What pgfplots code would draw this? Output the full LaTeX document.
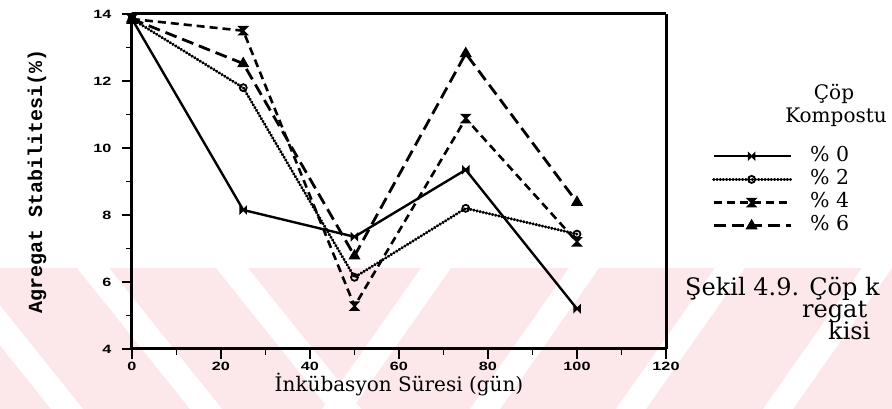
\documentclass[border=0pt]{standalone}
\usepackage{fontspec}
\setmainfont{DejaVu Serif}
\newfontfamily\tickfont{Liberation Sans Bold}[FakeStretch=1.35]
\newfontfamily\ylabfont{Liberation Mono Bold}
\usepackage{pgfplots}
\usepackage{pgfplotstable}
\pgfplotsset{compat=1.18}
\definecolor{wmpink}{RGB}{252,231,235}

\pgfdeclareplotmark{hourglass}{%
  \pgfpathmoveto{\pgfqpoint{-\pgfplotmarksize}{\pgfplotmarksize}}%
  \pgfpathlineto{\pgfqpoint{\pgfplotmarksize}{\pgfplotmarksize}}%
  \pgfpathlineto{\pgfqpoint{-\pgfplotmarksize}{-\pgfplotmarksize}}%
  \pgfpathlineto{\pgfqpoint{\pgfplotmarksize}{-\pgfplotmarksize}}%
  \pgfpathclose
  \pgfusepathqfillstroke}
\pgfdeclareplotmark{bowtie}{%
  \pgfpathmoveto{\pgfqpoint{-\pgfplotmarksize}{\pgfplotmarksize}}%
  \pgfpathlineto{\pgfqpoint{-\pgfplotmarksize}{-\pgfplotmarksize}}%
  \pgfpathlineto{\pgfqpoint{\pgfplotmarksize}{\pgfplotmarksize}}%
  \pgfpathlineto{\pgfqpoint{\pgfplotmarksize}{-\pgfplotmarksize}}%
  \pgfpathclose
  \pgfusepathqfillstroke}

\pgfplotstableread{
x    p0    p2    p4    p6
0    13.85 13.85 13.85 13.85
25   8.15  11.8  13.5  12.52
50   7.35  6.14  5.28  6.78
75   9.35  8.2   10.88 12.82
100  5.2   7.43  7.2   8.38
}\datatable

\begin{document}
\begin{tikzpicture}
\path[use as bounding box] (-132pt,-60pt) rectangle (760pt,349pt);
% faint watermark band
\fill[wmpink] (-132pt,-60pt) rectangle (760pt,81pt);
\foreach \a/\b in {-62/-30, 77/109, 216/248}{
  \fill[white] ({(\a-132)*1pt},81pt) -- ({(\b-132)*1pt},81pt) -- ({(\b-132+113)*1pt},-60pt) -- ({(\a-132+113)*1pt},-60pt) -- cycle;
}
\foreach \a/\b in {421/451, 569/599, 715/745, 862/892}{
  \fill[white] ({(\a-132)*1pt},81pt) -- ({(\b-132)*1pt},81pt) -- ({(\b-132-99)*1pt},-60pt) -- ({(\a-132-99)*1pt},-60pt) -- cycle;
}
\begin{axis}[
  at={(0pt,0pt)}, anchor=south west,
  scale only axis, width=534pt, height=335pt,
  xmin=0, xmax=120, ymin=4, ymax=14,
  xtick={0,20,...,120}, minor xtick={10,30,...,110},
  ytick={4,6,...,14}, minor ytick={5,7,...,13},
  tick align=outside, xtick pos=left, ytick pos=left,
  major tick length=10pt, minor tick length=6pt,
  every tick/.style={black, line width=1.8pt},
  separate axis lines,
  every outer x axis line/.append style={line width=3pt},
  every outer y axis line/.append style={line width=3pt},
  /pgf/number format/assume math mode=true,
  xticklabel style={font=\tickfont\fontsize{12}{12}\selectfont},
  yticklabel style={font=\tickfont\fontsize{12}{12}\selectfont, xshift=-7pt},
  xlabel={İnkübasyon Süresi (gün)},
  xlabel style={font=\fontsize{20}{20}\selectfont, at={(axis description cs:0.5,0)}, anchor=base, yshift=-43pt},
  ylabel={Agregat Stabilitesi(\%)},
  ylabel style={font=\ylabfont\fontsize{20}{20}\selectfont, at={(axis description cs:-0.178,0.5)}, anchor=center},
  legend image code/.code={\draw[mark repeat=2,mark phase=2,#1] plot coordinates {(0pt,0pt) (38pt,0pt) (77pt,0pt)};},
  legend style={at={(1.086,0.603)}, anchor=north west, draw=none, fill=none,
    inner sep=0pt, column sep=18pt, row sep=5.2pt,
    font=\fontsize{20.5}{20.5}\selectfont,
    nodes={inner sep=0pt, text height=14pt, text depth=4pt}},
  legend cell align=left,
]
\addplot[black, line width=2.4pt, mark=bowtie, mark size=3pt, mark options={solid, line width=1.5pt}] table[x=x, y=p0] {\datatable};
\addlegendentry{\% 0}
\addplot[black, line width=3pt, line cap=round, dash pattern=on 0.5pt off 2.7pt, mark=o, mark size=3.5pt, mark options={solid, line width=1.8pt, fill=white}] table[x=x, y=p2] {\datatable};
\addlegendentry{\% 2}
\addplot[black, line width=2.6pt, dash pattern=on 8pt off 5pt, mark=hourglass, mark size=4pt, mark options={solid, line width=1.5pt}] table[x=x, y=p4] {\datatable};
\addlegendentry{\% 4}
\addplot[black, line width=2.8pt, dash pattern=on 12pt off 6pt, mark=triangle*, mark size=5.5pt, mark options={solid, line width=1.5pt}] table[x=x, y=p6] {\datatable};
\addlegendentry{\% 6}
\end{axis}
\node[anchor=base, font=\fontsize{20}{20}\selectfont] at (702pt,249pt) {Çöp};
\node[anchor=base, font=\fontsize{20}{20}\selectfont] at (704pt,226pt) {Kompostu};
\node[anchor=base west, inner sep=0pt, font=\fontsize{24}{24}\selectfont] at (553pt,53pt) {Şekil 4.9. Çöp k};
\node[anchor=base west, inner sep=0pt, font=\fontsize{24}{24}\selectfont] at (670pt,31pt) {regat};
\node[anchor=base west, inner sep=0pt, font=\fontsize{24}{24}\selectfont] at (696pt,9pt) {kisi};
\end{tikzpicture}
\end{document}
